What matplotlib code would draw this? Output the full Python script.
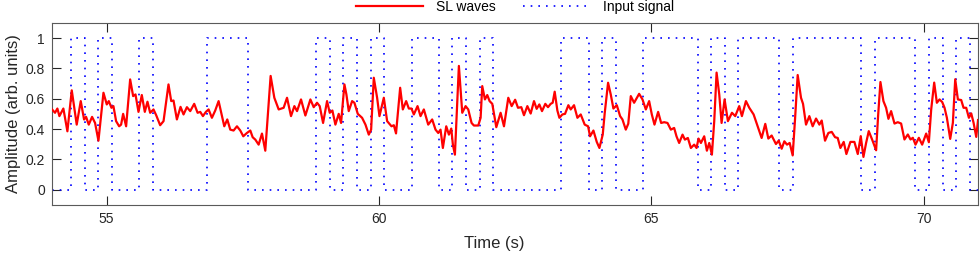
import matplotlib
matplotlib.use('Agg')
import matplotlib.pyplot as plt

# input square wave: switching times (s) and level right after each switch
input_time = [54.0, 54.35, 54.6, 54.85, 55.1, 55.6, 55.85, 56.85, 57.6, 58.85,
              59.1, 59.35, 59.6, 59.85, 60.1, 60.6, 61.1, 61.35, 61.6, 61.85,
              62.1, 63.35, 63.85, 64.1, 64.35, 64.85, 65.85, 66.1, 66.35, 66.6,
              67.35, 67.6, 68.85, 69.1, 69.85, 70.1, 70.35, 70.6, 70.85, 71.0]
input_level = [0, 1, 0, 1, 0, 1, 0, 1, 0, 1,
               0, 1, 0, 1, 0, 1, 0, 1, 0, 1,
               0, 1, 0, 1, 0, 1, 0, 1, 0, 1,
               0, 1, 0, 1, 0, 1, 0, 1, 0, 0]

# SL waves response
sl_time = [54.000, 54.055, 54.098, 54.135, 54.208, 54.282, 54.362, 54.453, 54.527, 54.588,
           54.625, 54.674, 54.735, 54.790, 54.852, 54.944, 55.005, 55.042, 55.091, 55.127,
           55.176, 55.232, 55.268, 55.305, 55.360, 55.434, 55.489, 55.532, 55.587, 55.648,
           55.703, 55.752, 55.801, 55.863, 55.912, 55.985, 56.047, 56.138, 56.188, 56.230,
           56.292, 56.359, 56.414, 56.476, 56.537, 56.610, 56.672, 56.721, 56.770, 56.825,
           56.874, 56.935, 56.996, 57.058, 57.107, 57.162, 57.217, 57.272, 57.333, 57.395,
           57.456, 57.511, 57.578, 57.640, 57.683, 57.732, 57.793, 57.854, 57.915, 58.013,
           58.081, 58.161, 58.252, 58.314, 58.387, 58.449, 58.498, 58.571, 58.651, 58.743,
           58.804, 58.865, 58.914, 58.976, 59.049, 59.098, 59.147, 59.202, 59.263, 59.306,
           59.368, 59.404, 59.447, 59.509, 59.551, 59.613, 59.692, 59.754, 59.815, 59.858,
           59.907, 59.968, 60.011, 60.091, 60.152, 60.232, 60.275, 60.315, 60.391, 60.440,
           60.501, 60.550, 60.599, 60.642, 60.710, 60.765, 60.826, 60.906, 60.979, 61.040,
           61.090, 61.132, 61.175, 61.237, 61.286, 61.329, 61.359, 61.396, 61.469, 61.531,
           61.592, 61.641, 61.702, 61.745, 61.825, 61.868, 61.898, 61.947, 61.990, 62.033,
           62.082, 62.156, 62.235, 62.297, 62.376, 62.438, 62.502, 62.554, 62.615, 62.664,
           62.726, 62.787, 62.848, 62.897, 62.946, 62.995, 63.056, 63.105, 63.154, 63.191,
           63.228, 63.277, 63.314, 63.369, 63.418, 63.479, 63.522, 63.583, 63.645, 63.706,
           63.779, 63.841, 63.877, 63.939, 64.000, 64.049, 64.110, 64.147, 64.208, 64.257,
           64.306, 64.368, 64.429, 64.472, 64.533, 64.579, 64.625, 64.686, 64.778, 64.840,
           64.901, 64.962, 65.011, 65.060, 65.127, 65.182, 65.238, 65.299, 65.360, 65.421,
           65.464, 65.513, 65.575, 65.618, 65.673, 65.728, 65.789, 65.832, 65.869, 65.912,
           65.973, 66.022, 66.065, 66.114, 66.157, 66.200, 66.249, 66.292, 66.347, 66.408,
           66.482, 66.543, 66.616, 66.665, 66.739, 66.800, 66.880, 66.953, 67.027, 67.094,
           67.150, 67.211, 67.290, 67.340, 67.395, 67.444, 67.493, 67.542, 67.597, 67.640,
           67.689, 67.750, 67.787, 67.842, 67.903, 67.964, 68.026, 68.087, 68.130, 68.191,
           68.252, 68.314, 68.375, 68.424, 68.473, 68.534, 68.583, 68.657, 68.730, 68.792,
           68.847, 68.896, 68.945, 68.994, 69.055, 69.129, 69.165, 69.208, 69.263, 69.312,
           69.355, 69.404, 69.466, 69.527, 69.588, 69.649, 69.711, 69.760, 69.803, 69.852,
           69.913, 69.974, 70.048, 70.097, 70.140, 70.195, 70.244, 70.293, 70.342, 70.385,
           70.428, 70.489, 70.538, 70.581, 70.630, 70.691, 70.734, 70.783, 70.832, 70.875,
           70.918, 70.967, 71.000]
sl_amp = [0.530, 0.508, 0.536, 0.486, 0.536, 0.386, 0.656, 0.430, 0.585, 0.464,
          0.481, 0.430, 0.481, 0.441, 0.324, 0.640, 0.563, 0.585, 0.541, 0.552,
          0.453, 0.419, 0.430, 0.501, 0.419, 0.728, 0.618, 0.629, 0.514, 0.625,
          0.514, 0.581, 0.508, 0.530, 0.492, 0.426, 0.453, 0.695, 0.585, 0.589,
          0.464, 0.547, 0.497, 0.545, 0.519, 0.567, 0.508, 0.514, 0.486, 0.514,
          0.530, 0.475, 0.523, 0.585, 0.508, 0.419, 0.464, 0.397, 0.391, 0.419,
          0.391, 0.353, 0.375, 0.391, 0.347, 0.331, 0.298, 0.371, 0.258, 0.751,
          0.607, 0.530, 0.541, 0.607, 0.486, 0.552, 0.519, 0.596, 0.490, 0.596,
          0.545, 0.574, 0.552, 0.441, 0.585, 0.508, 0.523, 0.430, 0.501, 0.441,
          0.695, 0.629, 0.519, 0.585, 0.574, 0.501, 0.475, 0.430, 0.364, 0.397,
          0.739, 0.607, 0.486, 0.607, 0.453, 0.419, 0.426, 0.372, 0.673, 0.530,
          0.585, 0.536, 0.536, 0.497, 0.552, 0.486, 0.530, 0.430, 0.464, 0.397,
          0.375, 0.397, 0.276, 0.419, 0.364, 0.404, 0.298, 0.232, 0.817, 0.508,
          0.552, 0.530, 0.441, 0.424, 0.424, 0.475, 0.684, 0.596, 0.625, 0.585,
          0.567, 0.413, 0.508, 0.419, 0.607, 0.552, 0.594, 0.541, 0.545, 0.492,
          0.552, 0.503, 0.585, 0.534, 0.563, 0.519, 0.567, 0.545, 0.567, 0.574,
          0.647, 0.523, 0.475, 0.497, 0.501, 0.558, 0.530, 0.558, 0.475, 0.497,
          0.430, 0.419, 0.353, 0.391, 0.316, 0.276, 0.364, 0.508, 0.706, 0.629,
          0.536, 0.558, 0.486, 0.464, 0.397, 0.436, 0.618, 0.574, 0.633, 0.596,
          0.530, 0.585, 0.497, 0.430, 0.514, 0.441, 0.446, 0.441, 0.397, 0.408,
          0.353, 0.309, 0.364, 0.331, 0.342, 0.276, 0.298, 0.276, 0.338, 0.309,
          0.353, 0.258, 0.309, 0.232, 0.453, 0.773, 0.629, 0.441, 0.596, 0.453,
          0.508, 0.486, 0.552, 0.486, 0.585, 0.541, 0.497, 0.419, 0.342, 0.435,
          0.338, 0.358, 0.302, 0.324, 0.271, 0.320, 0.298, 0.309, 0.227, 0.464,
          0.757, 0.607, 0.567, 0.430, 0.486, 0.419, 0.470, 0.430, 0.457, 0.324,
          0.375, 0.382, 0.347, 0.342, 0.276, 0.316, 0.236, 0.316, 0.316, 0.236,
          0.354, 0.217, 0.309, 0.387, 0.332, 0.261, 0.486, 0.711, 0.585, 0.541,
          0.468, 0.519, 0.437, 0.446, 0.437, 0.332, 0.365, 0.332, 0.343, 0.298,
          0.343, 0.298, 0.371, 0.314, 0.530, 0.707, 0.574, 0.596, 0.579, 0.541,
          0.475, 0.336, 0.442, 0.729, 0.596, 0.592, 0.541, 0.541, 0.475, 0.504,
          0.442, 0.349, 0.460]

plt.rcParams['font.family'] = ['Liberation Sans', 'DejaVu Sans']

fig = plt.figure(figsize=(9.8, 2.59), dpi=100)
ax = fig.add_axes([0.0531, 0.2085, 0.9449, 0.7027])

ax.plot(sl_time, sl_amp, color='#ff0000', lw=1.6, solid_joinstyle='round',
        label='SL waves', zorder=3)
ax.step(input_time, input_level, where='post', color='#0000ff', lw=1.2,
        linestyle=(0, (1, 3.6)), label='Input signal', zorder=2)

ax.set_xlim(54, 71)
ax.set_ylim(-0.1, 1.1)
ax.set_xticks([55, 60, 65, 70])
ax.set_yticks([0, 0.2, 0.4, 0.6, 0.8, 1])
ax.set_yticklabels(['0', '0.2', '0.4', '0.6', '0.8', '1'])
ax.tick_params(direction='in', length=6.5, width=0.8, top=True, right=True,
               labelsize=10, colors='#262626', pad=5)
for s in ax.spines.values():
    s.set_color('#5a5a5a')
    s.set_linewidth(0.8)

ax.set_xlabel('Time (s)', fontsize=12, color='#262626')
ax.xaxis.set_label_coords(0.478, -0.17)
ax.set_ylabel('Amplitude (arb. units)', fontsize=12, color='#262626')
ax.yaxis.set_label_coords(-0.034, 0.5)

ax.legend(loc='center', bbox_to_anchor=(0.5, 1.088), ncol=2, frameon=False,
          fontsize=10, handlelength=4.8, handletextpad=1.0, columnspacing=1.9,
          borderpad=0)

fig.savefig('out.png', dpi=100)
